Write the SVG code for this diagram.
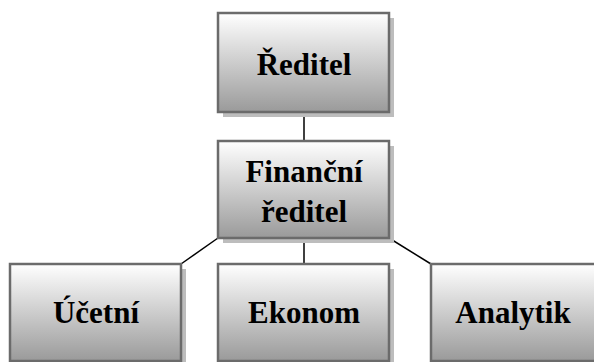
<svg xmlns="http://www.w3.org/2000/svg" width="594" height="362" viewBox="0 0 594 362">
<defs>
<linearGradient id="g" x1="0" y1="0" x2="0" y2="1">
<stop offset="0" stop-color="#ffffff"/>
<stop offset="1" stop-color="#9a9a9a"/>
</linearGradient>
<style>
.sh{fill:#bdbdbd}
.bx{fill:url(#g);stroke:#6b6b6b;stroke-width:2.5}
.t{font-family:'Liberation Serif','DejaVu Serif',serif;font-weight:700;font-size:31px;fill:#000;text-anchor:middle}
.c{stroke:#000;stroke-width:1.5;fill:none}
</style>
</defs>
<g id="connectors">
<line class="c" x1="304" y1="112" x2="304" y2="141"/>
<line class="c" x1="304" y1="238" x2="304" y2="264"/>
<line class="c" x1="218" y1="238" x2="181" y2="264"/>
<line class="c" x1="389" y1="238" x2="431" y2="264"/>
</g>
<g id="reditel">
<rect class="sh" x="223" y="18" width="171" height="99"/>
<rect class="bx" x="218" y="13" width="171" height="99"/>
<text class="t" x="304" y="75">Ředitel</text>
</g>
<g id="financni">
<rect class="sh" x="223" y="146" width="171" height="97"/>
<rect class="bx" x="218" y="141" width="171" height="97"/>
<text class="t" x="304" y="182">Finanční</text>
<text class="t" x="304" y="222">ředitel</text>
</g>
<g id="ucetni">
<rect class="sh" x="15" y="269" width="171" height="97"/>
<rect class="bx" x="10" y="264" width="171" height="97"/>
<text class="t" x="96" y="323">Účetní</text>
</g>
<g id="ekonom">
<rect class="sh" x="223" y="269" width="171" height="97"/>
<rect class="bx" x="218" y="264" width="171" height="97"/>
<text class="t" x="304" y="323">Ekonom</text>
</g>
<g id="analytik">
<rect class="sh" x="436" y="269" width="171" height="97"/>
<rect class="bx" x="431" y="264" width="171" height="97"/>
<text class="t" x="513" y="323">Analytik</text>
</g>
</svg>
